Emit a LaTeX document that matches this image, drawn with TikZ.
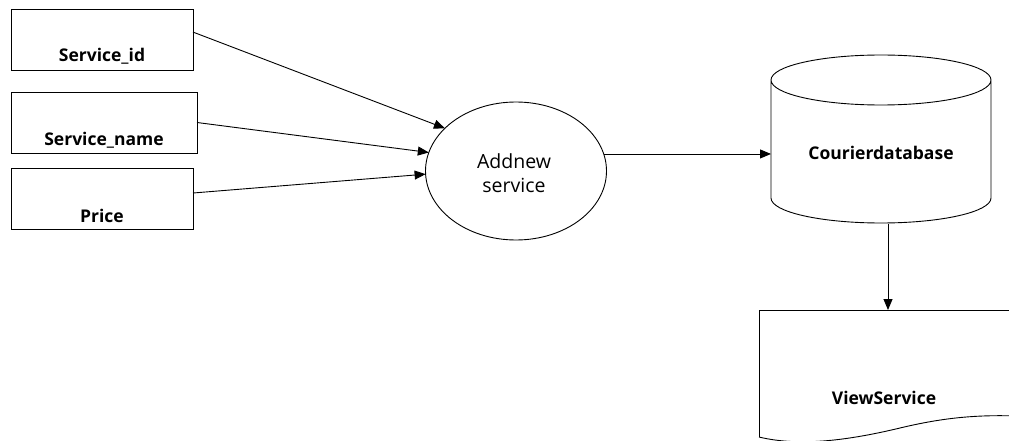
\documentclass[tikz,border=0pt]{standalone}
\usepackage{fontspec}
\setmainfont{Open Sans}
\usetikzlibrary{arrows.meta,shapes.geometric,calc}
\begin{document}
\begin{tikzpicture}[x=1pt,y=-1pt,
  line width=0.9pt,
  every node/.style={inner sep=0pt, outer sep=0pt},
  inbox/.style={draw, rectangle, minimum width=182pt, minimum height=61pt},
  lbl/.style={font=\fontsize{17.5}{20}\selectfont\bfseries, anchor=base},
  arr/.style={-{Triangle[length=11pt,width=9pt]}},
  proc/.style={draw, ellipse, minimum width=181pt, minimum height=138pt}
]
\useasboundingbox (0,0) rectangle (1009,441);
% input boxes
\node[inbox] (b1) at (102,40) {};
\node[lbl] (t1) at (102,62) {Service\_id};
\node[inbox, minimum width=186pt] (b2) at (104,122.5) {};
\node[lbl] (t2) at (104,146) {Service\_name};
\node[inbox] (b3) at (102,198.5) {};
\node[lbl] (t3) at (102,222) {Price};
% process
\node[proc] (ad) at (516,171) {};
\node[font=\fontsize{19.5}{24}\selectfont, align=center, anchor=base] (at) at (514,192) {Addnew\\service};
% database
\node[rectangle, minimum width=220pt, minimum height=118pt] (db) at (881,139) {};
\draw (db.north west) -- (db.south west)
      arc[start angle=180, end angle=360, x radius=110pt, y radius=25pt]
      -- (db.north east)
      arc[start angle=0, end angle=360, x radius=110pt, y radius=25pt];
\node[lbl] (t4) at (881,159) {Courierdatabase};
% document
\node[rectangle, minimum width=290pt, minimum height=127pt] (vs) at (904,373.5) {};
\draw (vs.south west) |- (vs.north east);
\draw (vs.south west) .. controls (800,447) and (850,440) .. (900,428)
      .. controls (950,416) and (990,413) .. (1050,418);
\node[lbl] (t5) at (884,404) {ViewService};
% connectors
\coordinate (s1) at ($(b1.north east)!0.37!(b1.south east)$);
\coordinate (s3) at ($(b3.north east)!0.41!(b3.south east)$);
\draw[arr] (s1) -- (ad.149);
\draw[arr] (b2.east) -- (ad.168);
\draw[arr] (s3) -- (ad.182);
\draw[arr] (ad.11) -- (ad.11 -| db.west);
\coordinate (d1) at ($(db.south)+(7,26)$);
\draw[arr] (d1) -- (d1 |- vs.north);
\end{tikzpicture}
\end{document}
